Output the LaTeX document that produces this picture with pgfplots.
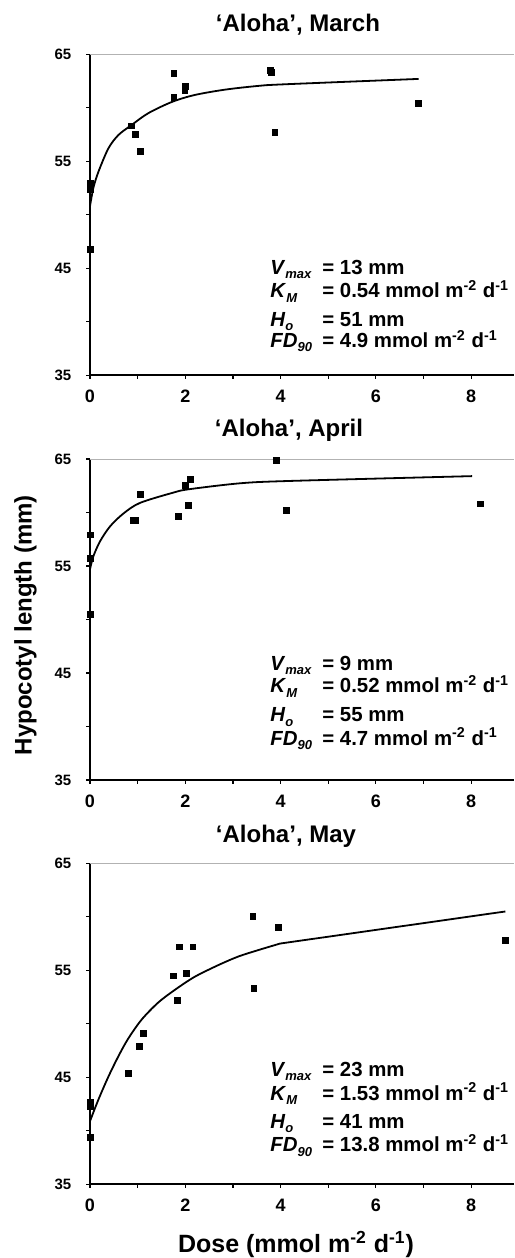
\documentclass[border=0pt]{standalone}
\usepackage{pgfplots}
\pgfplotsset{compat=1.18}
\usepackage{fontspec}
\setmainfont{Liberation Sans}

\pgfplotsset{
  panel/.style={
    width=212pt, height=160.5pt, scale only axis,
    xmin=0, xmax=8.9, ymin=35, ymax=65,
    axis x line*=bottom, axis y line*=left,
    axis line style={-, line width=0.9pt},
    xtick={0,...,8}, xticklabels={0,,2,,4,,6,,8},
    ytick={35,40,...,65}, yticklabels={35,,45,,55,,65},
    tick align=outside, major tick length=1.8pt,
    tick style={black, line width=0.6pt},
    /pgf/number format/assume math mode=true,
    xticklabel style={font=\fontsize{9}{9}\selectfont\bfseries, yshift=-2pt},
    yticklabel style={font=\fontsize{7.5}{7.5}\selectfont\bfseries, xshift=-4pt},
    clip=false,
  },
  pts/.style={only marks, mark=square*, mark size=1.45pt, black},
  fit/.style={black, line width=0.9pt, no marks},
}

\newcommand\nm[2]{\textbf{\textit{#1}}\raisebox{-2.2pt}{\fontsize{6.5}{6.5}\selectfont\bfseries\itshape #2}}
\newcommand\un{mmol m\textsuperscript{-2} d\textsuperscript{-1}}

\begin{document}
\begin{tikzpicture}
\useasboundingbox (0,0) rectangle (257pt,-629pt);

% ---- March
\begin{axis}[panel, at={(45pt,-27.15pt)}, anchor=north west]
  \addplot[pts] coordinates {(0,52.9) (0,52.4) (0,46.8) (0.875,58.3) (0.95,57.5)
    (1.05,55.9) (1.76,63.2) (1.76,61.0) (2.0,62.0) (1.99,61.6) (3.79,63.5)
    (3.81,63.3) (3.88,57.7) (6.9,60.4)};
  \addplot[fit, smooth] coordinates {(0,50.8) (0.07,52.5) (0.175,54.0) (0.385,56.2)
    (0.595,57.45) (0.875,58.4) (1.225,59.5) (1.72,60.55) (2.2,61.2) (2.84,61.7)
    (3.54,62.05) (4.1,62.2) (6.9,62.7)};
  \draw[gray!60, line width=0.4pt] (rel axis cs:0,1) -- (rel axis cs:1,1);
\end{axis}

% ---- April
\begin{axis}[panel, at={(45pt,-229.5pt)}, anchor=north west]
  \addplot[pts] coordinates {(0,57.9) (0,55.7) (0,50.5) (0.91,59.25) (0.945,59.25)
    (1.05,61.7) (1.855,59.6) (2.0,62.5) (2.065,60.7) (2.1,63.1) (3.91,64.85)
    (4.12,60.2) (8.19,60.8)};
  \addplot[fit, smooth] coordinates {(0,54.7) (0.07,55.9) (0.21,57.3) (0.42,58.7)
    (0.7,59.9) (1.05,60.9) (1.75,61.86) (2.07,62.17) (3.15,62.73) (4.2,62.95) (8.02,63.4)};
  \draw[gray!60, line width=0.4pt] (rel axis cs:0,1) -- (rel axis cs:1,1);
\end{axis}

% ---- May
\begin{axis}[panel, at={(45pt,-431.65pt)}, anchor=north west]
  \addplot[pts] coordinates {(0,42.67) (0,42.25) (0,39.4) (0.8,45.4) (1.035,47.86)
    (1.12,49.1) (1.75,54.47) (1.84,52.2) (1.87,57.18) (2.02,54.7) (2.16,57.18)
    (3.42,60.07) (3.44,53.28) (3.95,59.0) (8.72,57.8)};
  \addplot[fit, smooth] coordinates {(0,40.9) (0.175,42.9) (0.385,45.05) (0.6,47.0)
    (0.8,48.6) (1.085,50.4) (1.435,52.0) (1.79,53.2) (2.2,54.4) (2.7,55.5)
    (3.12,56.3) (3.54,56.9) (3.99,57.5)};
  \addplot[fit] coordinates {(3.99,57.5) (8.72,60.5)};
  \draw[gray!60, line width=0.4pt] (rel axis cs:0,1) -- (rel axis cs:1,1);
\end{axis}

% titles and axis labels
\begin{scope}[every node/.style={inner sep=0pt, font=\fontsize{12}{12}\selectfont\bfseries}]
  \node[anchor=base] at (149pt,-15.85pt) {‘Aloha’, March};
  \node[anchor=base] at (144.5pt,-218.3pt) {‘Aloha’, April};
  \node[anchor=base] at (143pt,-421pt) {‘Aloha’, May};
  \node[anchor=base, rotate=90] at (15.85pt,-312.5pt) {Hypocotyl length (mm)};
  \node[anchor=base, font=\fontsize{12.5}{12.5}\selectfont\bfseries] at (148pt,-626.3pt) {Dose (mmol m\textsuperscript{-2} d\textsuperscript{-1})};
\end{scope}

% parameter boxes
\begin{scope}[every node/.style={inner sep=0pt, anchor=base west, font=\fontsize{10.2}{10.2}\selectfont\bfseries}]
  \node at (135pt,-137pt) {\nm{V}{max}};
  \node at (161pt,-137pt) {= 13 mm};
  \node at (135pt,-148.85pt) {\nm{K}{M}};
  \node at (161pt,-148.85pt) {= 0.54 \un};
  \node at (135pt,-163pt) {\nm{H}{o}};
  \node at (161pt,-163pt) {= 51 mm};
  \node at (135pt,-173.65pt) {\nm{FD}{90}};
  \node at (161pt,-173.65pt) {= 4.9 \un};

  \node at (135pt,-335pt) {\nm{V}{max}};
  \node at (161pt,-335pt) {= 9 mm};
  \node at (135pt,-346.35pt) {\nm{K}{M}};
  \node at (161pt,-346.35pt) {= 0.52 \un};
  \node at (135pt,-360.85pt) {\nm{H}{o}};
  \node at (161pt,-360.85pt) {= 55 mm};
  \node at (135pt,-372.5pt) {\nm{FD}{90}};
  \node at (161pt,-372.5pt) {= 4.7 \un};

  \node at (135pt,-538pt) {\nm{V}{max}};
  \node at (161pt,-538pt) {= 23 mm};
  \node at (135pt,-550pt) {\nm{K}{M}};
  \node at (161pt,-550pt) {= 1.53 \un};
  \node at (135pt,-564.15pt) {\nm{H}{o}};
  \node at (161pt,-564.15pt) {= 41 mm};
  \node at (135pt,-575.85pt) {\nm{FD}{90}};
  \node at (161pt,-575.85pt) {= 13.8 \un};
\end{scope}
\end{tikzpicture}
\end{document}
